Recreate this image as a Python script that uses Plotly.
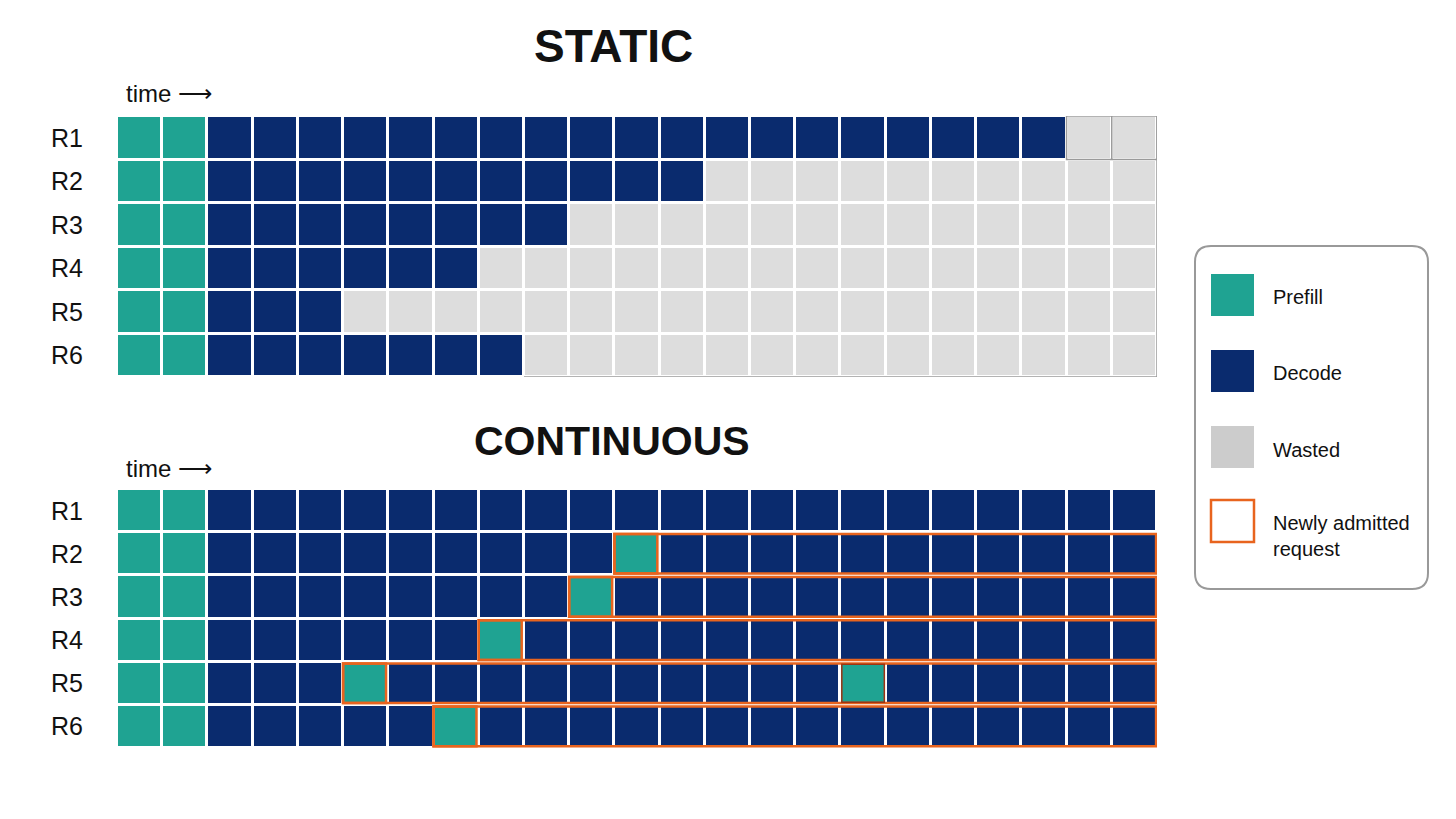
import plotly.graph_objects as go

# --- data -------------------------------------------------------------
requests = ["R1", "R2", "R3", "R4", "R5", "R6"]
n_steps = 23
prefill_steps = 2

# static batching: decode steps per request, rest of the batch is wasted
static_decode_steps = [19, 11, 8, 6, 3, 7]

# continuous batching: time steps (1-based) where a new request is admitted (prefill)
cont_admit_steps = [[], [12], [11], [9], [6, 17], [8]]

legend_labels = ["Prefill", "Decode", "Wasted", "Newly admitted<br>request"]

# --- styles -----------------------------------------------------------
TEAL = "#1fa392"
NAVY = "#0a2b6e"
GRAY = "#dddddd"
ORANGE = "#e8641e"
SANS = "Liberation Sans, Arial, sans-serif"
INK = "#111111"

W, H = 1456, 819
OFF = 8  # page body margin, positions below are measured in window pixels


def px(v):
    return (v - OFF) / W


def py(v):
    return 1 - (v - OFF) / H


X_DOM = [px(117), px(1157)]
STATIC_DOM = [py(377), py(116)]
CONT_DOM = [py(748), py(489)]

steps = list(range(1, n_steps + 1))
rows = list(range(1, len(requests) + 1))

# 0 = prefill, 1 = decode, 2 = wasted
static_z = []
for dec in static_decode_steps:
    static_z.append([0 if t <= prefill_steps else (1 if t <= prefill_steps + dec else 2) for t in steps])

cont_z = []
for adm in cont_admit_steps:
    cont_z.append([0 if (t <= prefill_steps or t in adm) else 1 for t in steps])

colorscale = [[0, TEAL], [1 / 3, TEAL], [1 / 3, NAVY], [2 / 3, NAVY], [2 / 3, GRAY], [1, GRAY]]

fig = go.Figure()
for z, xa, ya in [(static_z, "x", "y"), (cont_z, "x2", "y2")]:
    fig.add_trace(go.Heatmap(
        z=z, x=steps, y=rows, xaxis=xa, yaxis=ya,
        colorscale=colorscale, zmin=0, zmax=2, showscale=False,
        xgap=3, ygap=3, hoverinfo="skip"
    ))

shapes = []

# gray outline around the wasted area of the static batch
last_r1 = prefill_steps + static_decode_steps[0]
last_r6 = prefill_steps + static_decode_steps[-1]
gline = dict(color="#9a9a9a", width=1.5)
shapes.append(dict(type="rect", xref="x", yref="y", x0=last_r1 + 0.5, x1=n_steps + 0.5,
                   y0=0.5, y1=1.5, line=gline))
shapes.append(dict(type="line", xref="x", yref="y", x0=n_steps + 0.5, x1=n_steps + 0.5,
                   y0=0.5, y1=len(requests) + 0.5, line=gline))
shapes.append(dict(type="line", xref="x", yref="y", x0=last_r6 + 0.5, x1=n_steps + 0.5,
                   y0=len(requests) + 0.5, y1=len(requests) + 0.5, line=gline))
for t in range(last_r1 + 1, n_steps):
    shapes.append(dict(type="line", xref="x", yref="y", x0=t + 0.5, x1=t + 0.5,
                       y0=0.5, y1=1.5, line=gline))

# orange boxes around newly admitted requests
for r, adm in zip(rows, cont_admit_steps):
    if not adm:
        continue
    shapes.append(dict(type="rect", xref="x2", yref="y2", x0=adm[0] - 0.5, x1=n_steps + 0.48,
                       y0=r - 0.46, y1=r + 0.46, line=dict(color=ORANGE, width=2.5)))
    shapes.append(dict(type="rect", xref="x2", yref="y2", x0=adm[0] - 0.5, x1=adm[0] + 0.45,
                       y0=r - 0.46, y1=r + 0.46, line=dict(color=ORANGE, width=2.5)))
    for t in adm[1:]:
        shapes.append(dict(type="rect", xref="x2", yref="y2", x0=t - 0.47, x1=t + 0.47,
                           y0=r - 0.44, y1=r + 0.44, line=dict(color="#9c3414", width=1.5)))

# legend box with rounded corners
lx0, lx1, ly0, ly1, rad = 1195, 1428, 246, 589, 16
pts = [("M", lx0 + rad, ly0), ("L", lx1 - rad, ly0), ("Q", lx1, ly0), ("", lx1, ly0 + rad),
       ("L", lx1, ly1 - rad), ("Q", lx1, ly1), ("", lx1 - rad, ly1),
       ("L", lx0 + rad, ly1), ("Q", lx0, ly1), ("", lx0, ly1 - rad),
       ("L", lx0, ly0 + rad), ("Q", lx0, ly0), ("", lx0 + rad, ly0)]
path = " ".join(f"{cmd} {px(a):.5f},{py(b):.5f}".strip() for cmd, a, b in pts) + " Z"
shapes.append(dict(type="path", xref="paper", yref="paper", path=path,
                   fillcolor="white", line=dict(color="#999999", width=2)))

swatch_tops = [274, 350, 426, 500]
swatch_fills = [TEAL, NAVY, "#cccccc", "white"]
label_ys = [297, 373, 450, 536]
annotations = []
for top, fill, lab, yy in zip(swatch_tops, swatch_fills, legend_labels, label_ys):
    border = dict(color=ORANGE, width=2.5) if fill == "white" else dict(width=0)
    shapes.append(dict(type="rect", xref="paper", yref="paper",
                       x0=px(1211), x1=px(1254), y0=py(top + 42), y1=py(top),
                       fillcolor=fill, line=border))
    annotations.append(dict(text=lab, xref="paper", yref="paper", x=px(1271), y=py(yy),
                            xanchor="left", yanchor="middle", showarrow=False, align="left",
                            font=dict(family=SANS, size=20, color=INK)))

# titles and labels
annotations.append(dict(text="<b>STATIC</b>", xref="paper", yref="paper", x=px(613), y=py(46),
                        xanchor="center", yanchor="middle", showarrow=False,
                        font=dict(family=SANS, size=46, color=INK)))
annotations.append(dict(text="<b>CONTINUOUS</b>", xref="paper", yref="paper", x=px(612), y=py(441),
                        xanchor="center", yanchor="middle", showarrow=False,
                        font=dict(family=SANS, size=41, color=INK)))
for ty in [94, 468]:
    annotations.append(dict(text="time \u27f6", xref="paper", yref="paper", x=px(124), y=py(ty),
                            xanchor="left", yanchor="middle", showarrow=False,
                            font=dict(family=SANS, size=24, color=INK)))
for ya in ["y", "y2"]:
    for r, name in zip(rows, requests):
        annotations.append(dict(text=name, xref="paper", yref=ya, x=px(67), y=r,
                                xanchor="center", yanchor="middle", showarrow=False,
                                font=dict(family=SANS, size=25, color=INK)))

axis_off = dict(visible=False, showgrid=False, zeroline=False, fixedrange=True)
fig.update_layout(
    width=W, height=H,
    margin=dict(l=0, r=0, t=0, b=0),
    paper_bgcolor="white", plot_bgcolor="white",
    xaxis=dict(domain=X_DOM, range=[0.5, n_steps + 0.5], anchor="y", **axis_off),
    yaxis=dict(domain=STATIC_DOM, range=[len(requests) + 0.5, 0.5], anchor="x", **axis_off),
    xaxis2=dict(domain=X_DOM, range=[0.5, n_steps + 0.5], anchor="y2", **axis_off),
    yaxis2=dict(domain=CONT_DOM, range=[len(requests) + 0.5, 0.5], anchor="x2", **axis_off),
    shapes=shapes,
    annotations=annotations,
    showlegend=False,
)

fig.write_html("out.html")
